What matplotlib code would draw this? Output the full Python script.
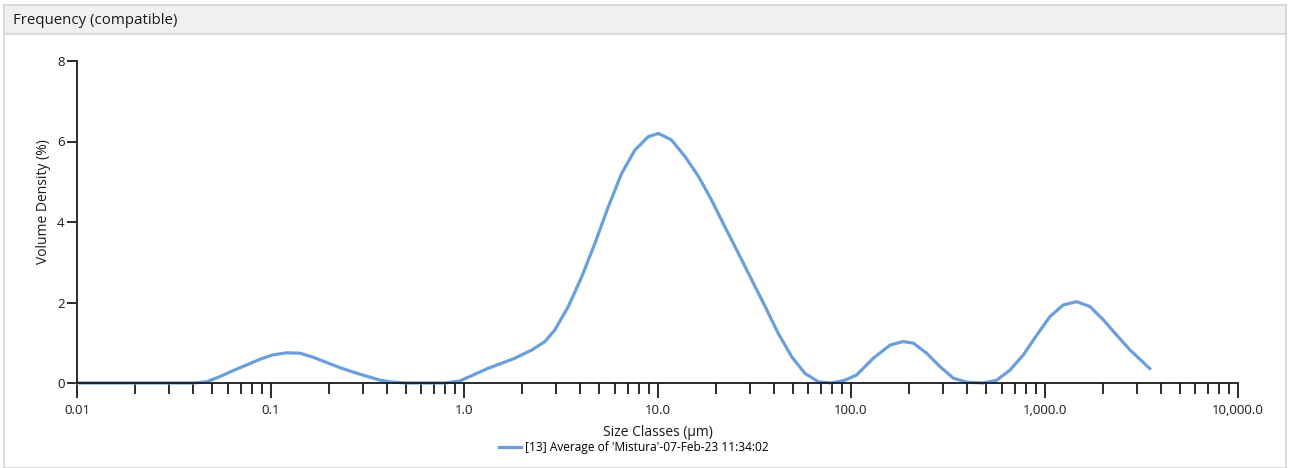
import matplotlib
matplotlib.use('Agg')
import matplotlib.pyplot as plt
from matplotlib.patches import Rectangle
from matplotlib.ticker import FixedLocator, FixedFormatter, LogLocator, NullFormatter

plt.rcParams['font.family'] = ['Open Sans', 'DejaVu Sans']

# Particle size (um) and volume density (%) of the averaged record
size_um = [0.01, 0.02, 0.03, 0.04, 0.0468, 0.0548, 0.0643, 0.0753, 0.0883,
           0.103, 0.121, 0.142, 0.166, 0.195, 0.229, 0.268, 0.314, 0.368,
           0.431, 0.506, 0.6, 0.8, 0.95, 1.07, 1.34, 1.8, 2.24, 2.62, 2.95,
           3.46, 4.06, 4.75, 5.57, 6.53, 7.65, 8.96, 10.1, 11.8, 13.9, 16.3,
           19.0, 22.3, 26.2, 30.7, 36.0, 42.1, 49.4, 57.8, 67.8, 79.4, 93.0,
           107, 130, 159, 186, 210, 246, 288, 338, 396, 483, 566, 663, 778,
           912, 1067, 1251, 1466, 1718, 2013, 2360, 2767, 3500]
volume_pct = [0, 0, 0, 0, 0.03, 0.16, 0.31, 0.45, 0.59,
              0.70, 0.75, 0.74, 0.64, 0.51, 0.38, 0.27, 0.17, 0.07,
              0.02, 0, 0, 0, 0.05, 0.16, 0.37, 0.60, 0.82, 1.03, 1.32,
              1.90, 2.64, 3.47, 4.38, 5.21, 5.79, 6.12, 6.20, 6.04, 5.62, 5.13,
              4.55, 3.88, 3.22, 2.56, 1.90, 1.23, 0.65, 0.24, 0.03, 0, 0.07,
              0.20, 0.61, 0.94, 1.03, 0.99, 0.74, 0.41, 0.12, 0.02, 0, 0.07,
              0.32, 0.70, 1.19, 1.65, 1.94, 2.02, 1.90, 1.57, 1.19, 0.82, 0.36]

xtick_vals = [0.01, 0.1, 1.0, 10.0, 100.0, 1000.0, 10000.0]
xtick_labels = ['0.01', '0.1', '1.0', '10.0', '100.0', '1,000.0', '10,000.0']
ytick_vals = [0, 2, 4, 6, 8]

series_name = "[13] Average of 'Mistura'-07-Feb-23 11:34:02"

W, H = 1289, 468
fig = plt.figure(figsize=(W / 100, H / 100), dpi=100)
fig.patch.set_facecolor('white')

# panel frame and header strip, kept behind the axes
fig.patches.append(Rectangle((4 / W, 0), 1282 / W, 1 - 5 / H, transform=fig.transFigure,
                             facecolor='white', edgecolor='#d6d6d6', lw=1.2, zorder=-2))
fig.patches.append(Rectangle((4 / W, 1 - 34 / H), 1282 / W, 29 / H, transform=fig.transFigure,
                             facecolor='#f0f0f0', edgecolor='#d6d6d6', lw=1.2, zorder=-1))
fig.text(13 / W, 1 - 21 / H, 'Frequency (compatible)', fontsize=10.8, va='center',
         ha='left', color='#1a1a1a')

ax = fig.add_axes([77 / W, 1 - 383 / H, (1238 - 77) / W, (383 - 61) / H])
ax.patch.set_alpha(0)
ax.plot(size_um, volume_pct, color='#6a9fdc', lw=2.3, label=series_name,
        solid_joinstyle='round', clip_on=False)

ax.set_xscale('log')
ax.set_xlim(0.01, 10000)
ax.set_ylim(0, 8)
ax.xaxis.set_major_locator(FixedLocator(xtick_vals))
ax.xaxis.set_major_formatter(FixedFormatter(xtick_labels))
ax.xaxis.set_minor_locator(LogLocator(base=10, subs=range(2, 10), numticks=20))
ax.xaxis.set_minor_formatter(NullFormatter())
ax.set_yticks(ytick_vals)

for side in ['top', 'right']:
    ax.spines[side].set_visible(False)
for side in ['left', 'bottom']:
    ax.spines[side].set_linewidth(1.3)
    ax.spines[side].set_color('#1a1a1a')

ax.tick_params(axis='x', which='major', length=11, width=1.3, direction='out',
               labelsize=9.5, pad=4, colors='#1a1a1a')
ax.tick_params(axis='x', which='minor', length=8, width=1.3, direction='out',
               colors='#1a1a1a')
ax.tick_params(axis='y', which='major', length=7, width=1.3, direction='out',
               labelsize=9.5, pad=2, colors='#1a1a1a')

ax.set_xlabel('Size Classes (µm)', fontsize=10, color='#1a1a1a', labelpad=6)
ax.set_ylabel('Volume Density (%)', fontsize=10, color='#1a1a1a')
# y label sits a little above the axis middle
ax.yaxis.set_label_coords(-0.029, 0.562)
ax.yaxis.label.set_va('center')

fig.legend(loc='center', bbox_to_anchor=(634 / W, 1 - 448 / H), frameon=False,
           fontsize=8.6, handlelength=1.8, handletextpad=0.4)

fig.savefig('out.png', dpi=100)
